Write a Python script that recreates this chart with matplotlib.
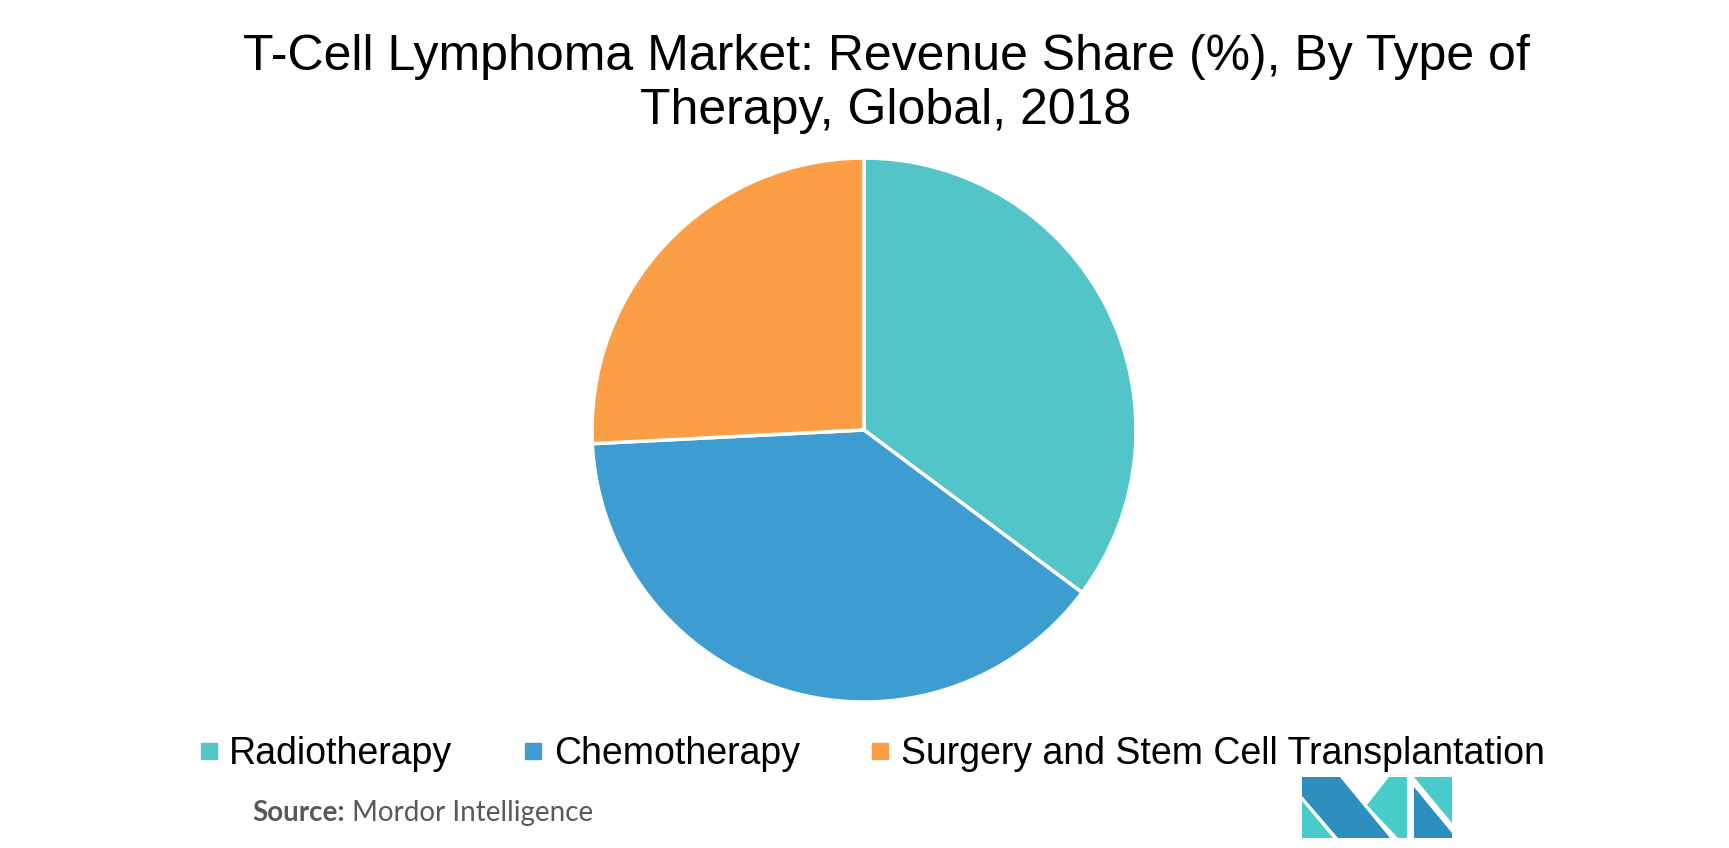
import matplotlib.pyplot as plt
from matplotlib.lines import Line2D
from matplotlib.patches import Polygon

# revenue share by type of therapy
therapies = ['Radiotherapy', 'Chemotherapy', 'Surgery and Stem Cell Transplantation']
shares = [35.2, 39.0, 25.8]
colors = ['#53C4C8', '#3D9DD0', '#FC9E46']

title = 'T-Cell Lymphoma Market: Revenue Share (%), By Type of\nTherapy, Global, 2018'

W, H = 1729, 848
fig = plt.figure(figsize=(W / 100, H / 100), dpi=100)
fig.patch.set_facecolor('white')

# pie centred at (864, 430) px, radius ~272 px
cx, cy, r = 864, 430, 272
ax = fig.add_axes([(cx - r) / W, 1 - (cy + r) / H, 2 * r / W, 2 * r / H])
ax.pie(shares, colors=colors, startangle=90, counterclock=False,
       wedgeprops=dict(edgecolor='white', linewidth=2.5), radius=1)
ax.set_xlim(-1, 1)
ax.set_ylim(-1, 1)
ax.set_aspect('equal')

fig.text(886 / W, 1 - 84 / H, title, ha='center', va='center', fontsize=36,
         family='Liberation Sans', linespacing=1.2)

handles = [Line2D([], [], marker='s', linestyle='none', markersize=11,
                  markerfacecolor=c, markeredgecolor=c) for c in colors]
fig.legend(handles, therapies, loc='center', bbox_to_anchor=(872 / W, 1 - 754 / H),
           ncol=3, frameon=False, prop=dict(family='Liberation Sans', size=27),
           handlelength=0.5, handletextpad=0.3, columnspacing=1.9)

# source line
t1 = fig.text(252 / W, 1 - 813 / H, 'Source:', ha='left', va='center', fontsize=20,
              family='Lato', fontweight='bold', color='#595959')
ax.annotate(' Mordor Intelligence', xy=(1, 0.5), xycoords=t1, ha='left', va='center',
            fontsize=20, family='Lato', color='#595959', annotation_clip=False)

# logo (pixel coordinates, converted to figure fraction)
def px(points):
    return [(x / W, 1 - y / H) for x, y in points]

dark = '#2E8FBF'
light = '#48CBCB'
logo = [
    (px([(1302, 777), (1340, 777), (1390, 838), (1338, 838), (1302, 796)]), dark),
    (px([(1302, 801), (1302, 838), (1333, 838)]), light),
    (px([(1367, 805), (1389, 777), (1407, 777), (1407, 838), (1398, 838)]), light),
    (px([(1414, 777), (1452, 777), (1452, 823)]), light),
    (px([(1414, 787), (1452, 833), (1452, 838), (1414, 838)]), dark),
]
for pts, c in logo:
    fig.add_artist(Polygon(pts, closed=True, facecolor=c, edgecolor='none',
                           transform=fig.transFigure))

fig.savefig('out.png', dpi=100, facecolor='white')
